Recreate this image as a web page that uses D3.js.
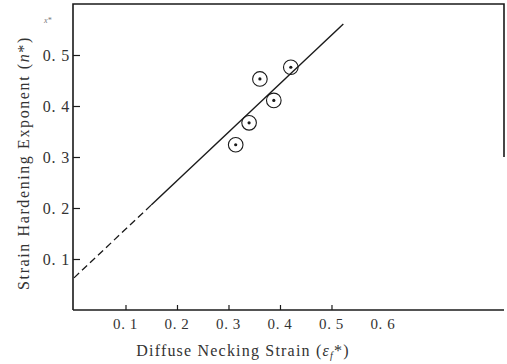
<!DOCTYPE html>
<html>
<head>
<meta charset="utf-8">
<script src="https://cdn.jsdelivr.net/npm/d3@7"></script>
<style>
  body { margin: 0; background: #fff; }
  svg { display: block; font-family: "Liberation Serif", "DejaVu Serif", serif; }
</style>
</head>
<body>
<svg id="chart" width="507" height="364"></svg>
<script>
// data
const strain = [0.314, 0.340, 0.361, 0.388, 0.421];
const exponent = [0.324, 0.367, 0.453, 0.411, 0.476];
const dashedX = [0.0, 0.15];
const dashedY = [0.063, 0.206];
const solidX = [0.15, 0.523];
const solidY = [0.206, 0.561];
const xTickVals = [0.1, 0.2, 0.3, 0.4, 0.5];
const xLabelVals = [0.1, 0.2, 0.3, 0.4, 0.5, 0.6];
const yTickVals = [0.1, 0.2, 0.3, 0.4, 0.5];

const width = 507, height = 364;
const margin = { top: 4, right: 3, bottom: 54, left: 73 };

const svg = d3.select('#chart');
const ink = '#1a1a1a';

const x = d3.scaleLinear().domain([0, 0.835]).range([margin.left + 1, width - margin.right]);
const y = d3.scaleLinear().domain([0, 0.6]).range([height - margin.bottom, margin.top]);
const fmt = d => d.toFixed(1).replace('.', '. ');

// frame (right side faded out in the scan)
svg.append('path')
  .attr('fill', 'none')
  .attr('stroke', ink)
  .attr('stroke-width', 1.6)
  .attr('d', `M${margin.left},${y(0)}V${margin.top}H${width - margin.right}V${y(0.3)}`);

svg.append('line')
  .attr('x1', margin.left).attr('x2', width - margin.right)
  .attr('y1', y(0)).attr('y2', y(0))
  .attr('stroke', ink).attr('stroke-width', 1.6);

// x axis: ticks inward
const gx = svg.append('g')
  .attr('transform', `translate(0,${y(0)})`)
  .call(d3.axisBottom(x).tickValues(xTickVals).tickSize(-5).tickFormat(''));
gx.select('.domain').remove();
gx.selectAll('line').attr('stroke', ink).attr('stroke-width', 1.2);

svg.append('g')
  .attr('font-size', 15)
  .attr('letter-spacing', 0.6)
  .attr('fill', '#333')
  .selectAll('text')
  .data(xLabelVals)
  .join('text')
  .attr('x', d => x(d))
  .attr('y', y(0) + 19)
  .attr('text-anchor', 'middle')
  .text(fmt);

// y axis
const gy = svg.append('g')
  .attr('transform', `translate(${margin.left},0)`)
  .call(d3.axisLeft(y).tickValues(yTickVals).tickSize(-7).tickPadding(3).tickFormat(fmt));
gy.select('.domain').remove();
gy.selectAll('line').attr('stroke', ink).attr('stroke-width', 1.2);
gy.selectAll('text')
  .attr('font-size', 16)
  .attr('letter-spacing', 0.8)
  .attr('font-family', '"Liberation Serif", serif')
  .attr('fill', '#333');

// axis titles
const xt = svg.append('text')
  .attr('x', 243)
  .attr('y', 356)
  .attr('text-anchor', 'middle')
  .attr('font-size', 16)
  .attr('letter-spacing', 1.2)
  .attr('fill', '#333');
xt.append('tspan').text('Diffuse  Necking  Strain  (');
xt.append('tspan').attr('font-style', 'italic').text('ε');
xt.append('tspan').attr('font-style', 'italic').attr('font-size', 10).attr('dy', 3).text('f');
xt.append('tspan').attr('dy', -3).text('*)');

const yt = svg.append('text')
  .attr('transform', 'translate(29,163) rotate(-90)')
  .attr('text-anchor', 'middle')
  .attr('font-size', 16)
  .attr('letter-spacing', 1.6)
  .attr('fill', '#333');
yt.append('tspan').text('Strain Hardening Exponent (');
yt.append('tspan').attr('font-style', 'italic').text('n');
yt.append('tspan').text('*)');

// small stray mark near the top of the y axis
svg.append('text')
  .attr('x', 44).attr('y', 23)
  .attr('font-size', 8)
  .attr('fill', '#777')
  .attr('font-style', 'italic')
  .text('x*');

// fitted line
const line = d3.line().x(d => x(d[0])).y(d => y(d[1]));
svg.append('path')
  .datum(d3.zip(dashedX, dashedY))
  .attr('fill', 'none')
  .attr('stroke', ink)
  .attr('stroke-width', 1.3)
  .attr('stroke-dasharray', '7,4')
  .attr('d', line);
svg.append('path')
  .datum(d3.zip(solidX, solidY))
  .attr('fill', 'none')
  .attr('stroke', ink)
  .attr('stroke-width', 1.4)
  .attr('d', line);

// data points: circled dots
const pts = svg.append('g')
  .selectAll('g')
  .data(d3.zip(strain, exponent))
  .join('g')
  .attr('transform', d => `translate(${x(d[0])},${y(d[1])})`);
pts.append('circle')
  .attr('r', 7.3)
  .attr('fill', 'none')
  .attr('stroke', ink)
  .attr('stroke-width', 1.1);
pts.append('circle')
  .attr('r', 1.6)
  .attr('fill', ink);
</script>
</body>
</html>
